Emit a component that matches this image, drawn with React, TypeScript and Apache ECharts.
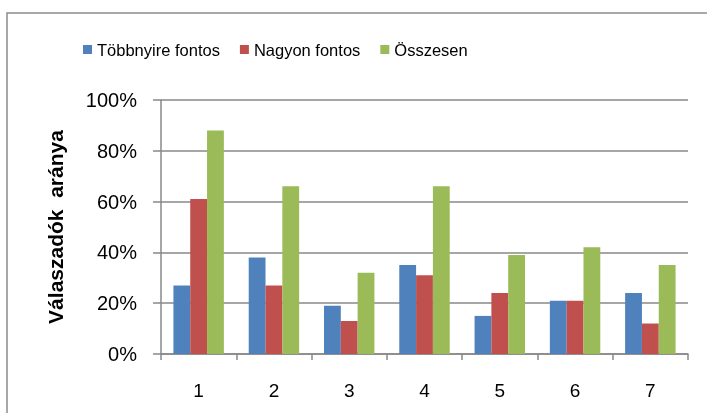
import React, { useEffect, useRef } from "react";
import * as echarts from "echarts";

const categories = ["1", "2", "3", "4", "5", "6", "7"];
const seriesNames = ["Többnyire fontos", "Nagyon fontos", "Összesen"];
const tobbnyire = [27, 38, 19, 35, 15, 21, 24];
const nagyon = [61, 27, 13, 31, 24, 21, 12];
const osszesen = [88, 66, 32, 66, 39, 42, 35];
const colors = ["#4F81BD", "#C0504D", "#9BBB59"];
const yTicks = [0, 20, 40, 60, 80, 100];

export default function App() {
  const ref = useRef<HTMLDivElement>(null);
  useEffect(() => {
    if (!ref.current) return;
    const chart = echarts.init(ref.current, null, { renderer: "svg" });
    const font = "Liberation Sans, Arial, sans-serif";
    const data = [tobbnyire, nagyon, osszesen];
    chart.setOption({
      animation: false,
      textStyle: { fontFamily: font },
      graphic: [
        {
          type: "polyline",
          shape: { points: [[7, 420], [7, 13], [720, 13]] },
          style: { fill: null, stroke: "#8c8c8c", lineWidth: 1.5 },
          silent: true,
          z: 10,
        },
      ],
      legend: {
        left: 83,
        top: 41,
        padding: 0,
        itemWidth: 9,
        itemHeight: 9,
        itemGap: 20,
        icon: "rect",
        textStyle: { fontFamily: font, fontSize: 16.5, color: "#000" },
        data: seriesNames,
      },
      grid: { left: 161, right: 19, top: 100, bottom: 59 },
      xAxis: {
        type: "category",
        data: categories,
        axisLine: { lineStyle: { color: "#888", width: 1.5 } },
        axisTick: { show: true, alignWithLabel: false, length: 6, lineStyle: { color: "#888", width: 1.5 } },
        axisLabel: { fontFamily: font, fontSize: 19, color: "#000", margin: 27 },
      },
      yAxis: {
        type: "value",
        min: 0,
        max: 100,
        interval: 20,
        name: "Válaszadók  aránya",
        nameLocation: "middle",
        nameGap: 95,
        nameRotate: 90,
        nameTextStyle: { fontFamily: font, fontSize: 21, fontWeight: "bold", color: "#000" },
        axisLine: { show: true, lineStyle: { color: "#888", width: 1.5 } },
        axisTick: { show: true, length: 8, lineStyle: { color: "#888", width: 1.5 } },
        axisLabel: {
          fontFamily: font,
          fontSize: 20,
          color: "#000",
          margin: 24,
          formatter: (v: number) => (yTicks.includes(v) ? v + "%" : ""),
        },
        splitLine: { lineStyle: { color: "#888", width: 1.5 } },
      },
      series: seriesNames.map((name, i) => ({
        name,
        type: "bar",
        data: data[i],
        barGap: "0%",
        barCategoryGap: "33%",
        itemStyle: { color: colors[i] },
      })),
    });
    return () => chart.dispose();
  }, []);
  return <div ref={ref} style={{ position: "fixed", left: 0, top: 0, width: 707, height: 413 }} />;
}
